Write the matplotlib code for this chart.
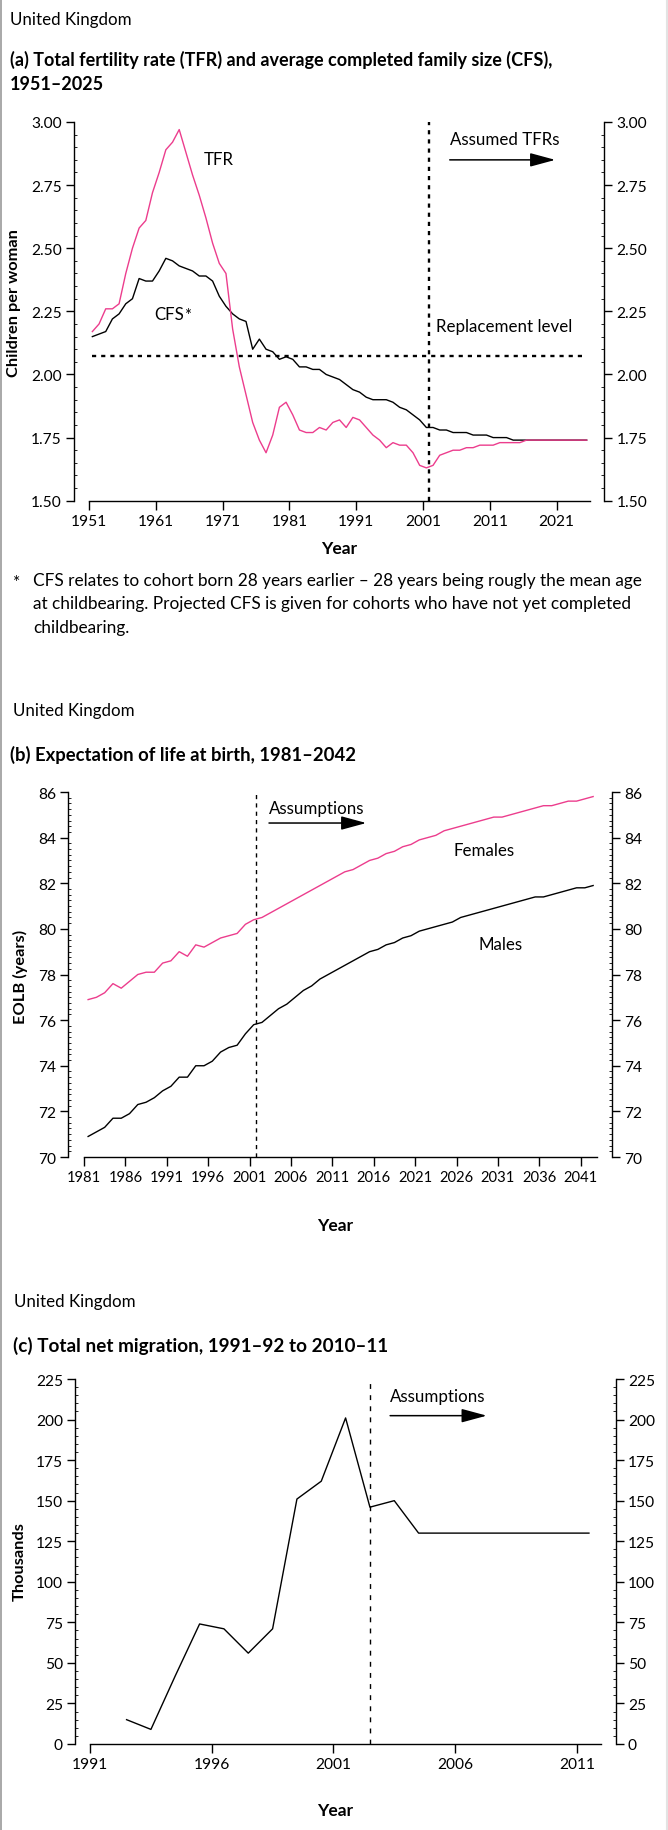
import matplotlib
matplotlib.use('Agg')
import matplotlib.pyplot as plt
from matplotlib.ticker import MultipleLocator, FixedLocator
import numpy as np

plt.rcParams['font.family'] = ['Lato', 'DejaVu Sans']
plt.rcParams['lines.scale_dashes'] = False

# ---------------- data ----------------
# (a) fertility
years_a = list(range(1951, 2026))
tfr = [2.17, 2.20, 2.26, 2.26, 2.28, 2.40, 2.50, 2.58, 2.61, 2.72,
       2.80, 2.89, 2.92, 2.97, 2.88, 2.79, 2.71, 2.62, 2.52, 2.44,
       2.40, 2.18, 2.03, 1.92, 1.81, 1.74, 1.69, 1.76, 1.87, 1.89,
       1.84, 1.78, 1.77, 1.77, 1.79, 1.78, 1.81, 1.82, 1.79, 1.83,
       1.82, 1.79, 1.76, 1.74, 1.71, 1.73, 1.72, 1.72, 1.69, 1.64,
       1.63, 1.64, 1.68, 1.69, 1.70, 1.70, 1.71, 1.71, 1.72, 1.72,
       1.72, 1.73, 1.73, 1.73, 1.73, 1.74, 1.74, 1.74, 1.74, 1.74,
       1.74, 1.74, 1.74, 1.74, 1.74]
cfs = [2.15, 2.16, 2.17, 2.22, 2.24, 2.28, 2.30, 2.38, 2.37, 2.37,
       2.41, 2.46, 2.45, 2.43, 2.42, 2.41, 2.39, 2.39, 2.37, 2.31,
       2.27, 2.24, 2.22, 2.21, 2.10, 2.14, 2.10, 2.09, 2.06, 2.07,
       2.06, 2.03, 2.03, 2.02, 2.02, 2.00, 1.99, 1.98, 1.96, 1.94,
       1.93, 1.91, 1.90, 1.90, 1.90, 1.89, 1.87, 1.86, 1.84, 1.82,
       1.79, 1.79, 1.78, 1.78, 1.77, 1.77, 1.77, 1.76, 1.76, 1.76,
       1.75, 1.75, 1.75, 1.74, 1.74, 1.74, 1.74, 1.74, 1.74, 1.74,
       1.74, 1.74, 1.74, 1.74, 1.74]
replacement_level = 2.075
replacement_span = [1951.5, 2025.5]
tfr_assumption_start = 2001.9
xticks_a = [1951, 1961, 1971, 1981, 1991, 2001, 2011, 2021]
yticks_a = [1.50, 1.75, 2.00, 2.25, 2.50, 2.75, 3.00]

# (b) life expectancy
years_b = list(range(1981, 2043))
females = [76.9, 77.0, 77.2, 77.6, 77.4, 77.7, 78.0, 78.1, 78.1, 78.5,
           78.6, 79.0, 78.8, 79.3, 79.2, 79.4, 79.6, 79.7, 79.8, 80.2,
           80.4, 80.5, 80.7, 80.9, 81.1, 81.3, 81.5, 81.7, 81.9, 82.1,
           82.3, 82.5, 82.6, 82.8, 83.0, 83.1, 83.3, 83.4, 83.6, 83.7,
           83.9, 84.0, 84.1, 84.3, 84.4, 84.5, 84.6, 84.7, 84.8, 84.9,
           84.9, 85.0, 85.1, 85.2, 85.3, 85.4, 85.4, 85.5, 85.6, 85.6,
           85.7, 85.8]
males = [70.9, 71.1, 71.3, 71.7, 71.7, 71.9, 72.3, 72.4, 72.6, 72.9,
         73.1, 73.5, 73.5, 74.0, 74.0, 74.2, 74.6, 74.8, 74.9, 75.4,
         75.8, 75.9, 76.2, 76.5, 76.7, 77.0, 77.3, 77.5, 77.8, 78.0,
         78.2, 78.4, 78.6, 78.8, 79.0, 79.1, 79.3, 79.4, 79.6, 79.7,
         79.9, 80.0, 80.1, 80.2, 80.3, 80.5, 80.6, 80.7, 80.8, 80.9,
         81.0, 81.1, 81.2, 81.3, 81.4, 81.4, 81.5, 81.6, 81.7, 81.8,
         81.8, 81.9]
eolb_assumption_start = 2001.8
xticks_b = list(range(1981, 2042, 5))
yticks_b = [70, 72, 74, 76, 78, 80, 82, 84, 86]

# (c) net migration (financial years 1991-92 ... 2010-11)
fy_start = list(range(1991, 2011))
net_migration = [15, 9, 42, 74, 71, 56, 71, 151, 162, 201,
                 146, 150, 130, 130, 130, 130, 130, 130, 130, 130]
mig_assumption_start = 2002.5
xticks_c = [1991, 1996, 2001, 2006, 2011]
yticks_c = [0, 25, 50, 75, 100, 125, 150, 175, 200, 225]

# ---------------- figure ----------------
W, H = 668, 1831
fig = plt.figure(figsize=(W / 100, H / 100), dpi=100)
PINK = '#EC3D8D'
TS = 11.2    # tick label size
BODY = 12.2  # annotation size
HEAD = 12.2  # "United Kingdom"
LAB = 11.8


def fx(x):
    return x / W


def fy(y):
    return 1 - y / H


def rect(l, r, t, b):
    return [l / W, 1 - b / H, (r - l) / W, (b - t) / H]


def style(ax, xbounds, minor):
    ax.spines['top'].set_visible(False)
    ax.spines['bottom'].set_bounds(*xbounds)
    for s in ax.spines.values():
        s.set_linewidth(1.0)
    ax.yaxis.set_minor_locator(MultipleLocator(minor))
    ax.tick_params(axis='y', which='major', direction='out', length=5.5, width=1.0,
                   left=True, right=True, labelleft=True, labelright=True,
                   labelsize=TS, pad=3.2)
    ax.tick_params(axis='y', which='minor', direction='in', length=2.5, width=0.6,
                   left=True, right=True)
    ax.tick_params(axis='x', which='major', direction='out', length=6.5, width=1.0,
                   labelsize=TS, pad=3)
    ax.tick_params(axis='x', which='minor', bottom=False)
    ax.patch.set_visible(False)


def arrow(ax, x0, x1, y, hl=1.55, hw=0.42):
    ax.annotate('', xy=(x1, y), xytext=(x0, y),
                arrowprops=dict(arrowstyle='-|>,head_length=%g,head_width=%g' % (hl, hw),
                                lw=1.1, color='black', shrinkA=0, shrinkB=0,
                                mutation_scale=10))


# ----- panel (a) -----
fig.text(fx(10), fy(25.5), 'United Kingdom', fontsize=HEAD, va='baseline')
fig.text(fx(10), fy(66), '(a) Total fertility rate (TFR) and average completed family size (CFS),',
         fontsize=13.0, fontweight='bold', va='baseline')
fig.text(fx(10), fy(89.5), '1951–2025', fontsize=13.0, fontweight='bold', va='baseline')

axa = fig.add_axes(rect(74, 604.3, 123, 501.7))
xa = np.array(years_a) + 0.5
axa.plot(replacement_span, [replacement_level] * 2, color='black', lw=1.7,
         dashes=(3.0, 3.6))
axa.plot([tfr_assumption_start] * 2, [1.5, 3.0], color='black', lw=1.7,
         dashes=(3.0, 3.6))
axa.plot(xa, cfs, color='black', lw=1.0)
axa.plot(xa, tfr, color=PINK, lw=1.0)
axa.set_xlim(1948.75, 2028.14)
axa.set_ylim(1.5, 3.0)
axa.xaxis.set_major_locator(FixedLocator(xticks_a))
axa.set_xticklabels([str(t) for t in xticks_a])
axa.yaxis.set_major_locator(FixedLocator(yticks_a))
axa.set_yticklabels(['%.2f' % t for t in yticks_a])
style(axa, (1951, 2026), 0.05)
axa.text(1968.2, 2.853, 'TFR', fontsize=BODY, va='center', ha='left')
cfs_t = axa.text(1960.8, 2.238, 'CFS', fontsize=BODY, va='center', ha='left')
axa.annotate('*', xy=(1.0, 0.98), xycoords=cfs_t, fontsize=12, va='top', ha='left')
axa.text(2005.1, 2.933, 'Assumed TFRs', fontsize=BODY, va='center', ha='left')
arrow(axa, 2005.0, 2020.8, 2.85)
axa.text(2002.9, 2.19, 'Replacement level', fontsize=BODY, va='center', ha='left')
fig.text(fx(14), fy(303), 'Children per woman', rotation=90, fontsize=LAB,
         fontweight='bold', ha='center', va='center')
fig.text(fx(338.7), fy(549), 'Year', fontsize=12.5, fontweight='bold', ha='center', va='center')

fig.text(fx(13), fy(588), '*', fontsize=12.5, va='baseline')
foot = ['CFS relates to cohort born 28 years earlier – 28 years being rougly the mean age',
        'at childbearing. Projected CFS is given for cohorts who have not yet completed',
        'childbearing.']
for i, line in enumerate(foot):
    fig.text(fx(33), fy(586 + 23.4 * i), line, fontsize=12.4, va='baseline')

# ----- panel (b) -----
fig.text(fx(13), fy(716), 'United Kingdom', fontsize=HEAD, va='baseline')
fig.text(fx(10), fy(760.7), '(b) Expectation of life at birth, 1981–2042',
         fontsize=13.3, fontweight='bold', va='baseline')
axb = fig.add_axes(rect(68, 612, 793, 1158))
xb = np.array(years_b) + 0.5
axb.plot([eolb_assumption_start] * 2, [70, 86], color='black', lw=1.0, dashes=(3.0, 3.0))
axb.plot(xb, males, color='black', lw=1.0)
axb.plot(xb, females, color=PINK, lw=1.0)
axb.set_xlim(1979.07, 2044.78)
axb.set_ylim(70, 86)
axb.xaxis.set_major_locator(FixedLocator(xticks_b))
axb.set_xticklabels([str(t) for t in xticks_b])
axb.yaxis.set_major_locator(FixedLocator(yticks_b))
axb.set_yticklabels([str(t) for t in yticks_b])
style(axb, (1981, 2043), 0.25)
axb.tick_params(axis='x', labelsize=10.6)
axb.text(2003.35, 85.3, 'Assumptions', fontsize=BODY, va='center', ha='left')
arrow(axb, 2003.35, 2015.1, 84.64)
axb.text(2029.3, 83.46, 'Females', fontsize=BODY, va='center', ha='center')
axb.text(2031.3, 79.34, 'Males', fontsize=BODY, va='center', ha='center')
fig.text(fx(20), fy(977), 'EOLB (years)', rotation=90, fontsize=LAB,
         fontweight='bold', ha='center', va='center')
fig.text(fx(335), fy(1226), 'Year', fontsize=12.5, fontweight='bold', ha='center', va='center')

# ----- panel (c) -----
fig.text(fx(14), fy(1307), 'United Kingdom', fontsize=HEAD, va='baseline')
fig.text(fx(13), fy(1351.7), '(c) Total net migration, 1991–92 to 2010–11',
         fontsize=13.6, fontweight='bold', va='baseline')
axc = fig.add_axes(rect(75, 615.7, 1380, 1745))
xc = np.array(fy_start) + 1.5
axc.plot([mig_assumption_start] * 2, [0, 225], color='black', lw=1.0, dashes=(3.5, 4.5))
axc.plot(xc, net_migration, color='black', lw=1.0)
axc.set_xlim(1990.38, 2012.6)
axc.set_ylim(0, 225)
axc.xaxis.set_major_locator(FixedLocator(xticks_c))
axc.set_xticklabels([str(t) for t in xticks_c])
axc.yaxis.set_major_locator(FixedLocator(yticks_c))
axc.set_yticklabels([str(t) for t in yticks_c])
style(axc, (1991, 2012), 5)
axc.text(2003.33, 214.5, 'Assumptions', fontsize=BODY, va='center', ha='left')
arrow(axc, 2003.33, 2007.3, 202.4)
fig.text(fx(20), fy(1562), 'Thousands', rotation=90, fontsize=LAB,
         fontweight='bold', ha='center', va='center')
fig.text(fx(335), fy(1811), 'Year', fontsize=12.5, fontweight='bold', ha='center', va='center')

# page borders
fig.add_artist(plt.Line2D([fx(0.8), fx(0.8)], [0, 1], color='#9a9a9a', lw=1.2))
fig.add_artist(plt.Line2D([fx(666.5), fx(666.5)], [0, 1], color='#e3e3e3', lw=1.5))

fig.savefig('out.png', dpi=100)
